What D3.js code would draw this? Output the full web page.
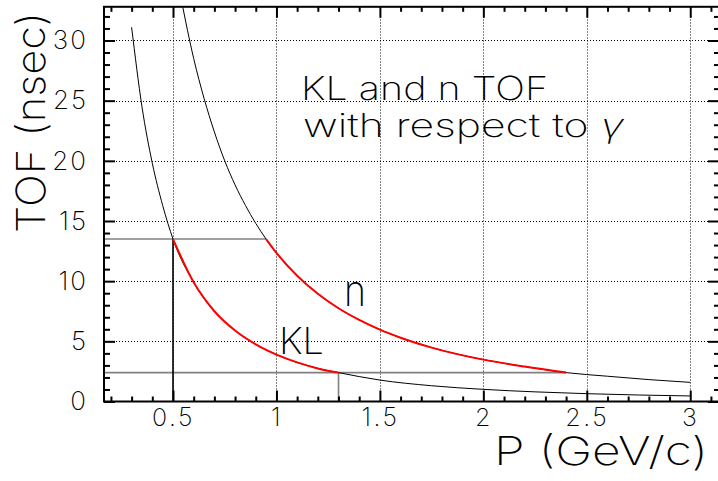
<!DOCTYPE html>
<html>
<head>
<meta charset="utf-8">
<script src="https://cdn.jsdelivr.net/npm/d3@7/dist/d3.min.js"></script>
<style>
  html, body { margin: 0; padding: 0; background: #fff; }
  svg { display: block; }
  text { font-family: "Inter", "Lato", "DejaVu Sans", sans-serif; font-weight: 250; fill: #000; }
  text.big { font-weight: 200; }
</style>
</head>
<body>
<svg id="chart" width="718" height="481"></svg>
<script>
// Momentum (GeV/c) and time of flight relative to a photon (nsec)
const pKL   = [0.30, 0.35, 0.40, 0.45, 0.50, 0.60, 0.70, 0.80, 0.90, 1.00, 1.10, 1.20, 1.30, 1.50, 1.75, 2.00, 2.25, 2.50, 2.75, 3.00];
const tofKL = [31.1, 24.5, 19.8, 16.3, 13.5, 9.90, 7.50, 5.90, 4.75, 3.90, 3.25, 2.75, 2.40, 1.78, 1.31, 1.01, 0.80, 0.65, 0.54, 0.46];

const pN   = [0.54, 0.60, 0.65, 0.70, 0.75, 0.80, 0.85, 0.90, 0.95, 1.00, 1.10, 1.20, 1.30, 1.40, 1.50, 1.60, 1.75, 2.00, 2.20, 2.40, 2.60, 2.80, 3.00];
const tofN = [33.4, 28.5, 25.2, 22.4, 20.0, 18.0, 16.3, 14.8, 13.5, 12.35, 10.45, 8.95, 7.75, 6.78, 5.97, 5.30, 4.48, 3.48, 2.90, 2.40, 2.10, 1.82, 1.59];

// Momentum window where both particles fall inside the TOF window
const klWindow = [0.50, 1.30];
const nWindow  = [0.95, 2.40];
const tofWindow = [13.5, 2.4];

// Axis ticks and labels
const xMajor = [0.5, 1, 1.5, 2, 2.5, 3];
const xLabels = ["0.5", "1", "1.5", "2", "2.5", "3"];
const yMajor = [0, 5, 10, 15, 20, 25, 30];
const yLabels = ["0", "5", "10", "15", "20", "25", "30"];

const svg = d3.select("#chart");
const L = 104, R = 719, T = 6.8, B = 401.5;

const x = d3.scaleLinear().domain([0.1665, 3.139]).range([L, R]);
const y = d3.scaleLinear().domain([0, 32.8]).range([B, T]);

const crisp = v => Math.round(v) + 0.5;

// clip region = plot frame
svg.append("defs").append("clipPath").attr("id", "frame")
  .append("rect").attr("x", L).attr("y", T).attr("width", R - L).attr("height", B - T);

// dotted grid
const grid = svg.append("g").attr("stroke", "#000").attr("stroke-width", 1).attr("stroke-dasharray", "1,2");
grid.selectAll("line.gx").data(xMajor).join("line")
  .attr("x1", d => crisp(x(d))).attr("x2", d => crisp(x(d)))
  .attr("y1", B).attr("y2", T);
grid.selectAll("line.gy").data(yMajor.filter(d => d > 0)).join("line")
  .attr("y1", d => crisp(y(d))).attr("y2", d => crisp(y(d)))
  .attr("x1", L).attr("x2", R);

// window marker lines
const marks = svg.append("g").attr("clip-path", "url(#frame)");
marks.append("line")
  .attr("x1", L).attr("x2", x(nWindow[0]))
  .attr("y1", y(tofWindow[0])).attr("y2", y(tofWindow[0]))
  .attr("stroke", "#808080").attr("stroke-width", 1.6);
marks.append("line")
  .attr("x1", L).attr("x2", x(nWindow[1]))
  .attr("y1", y(tofWindow[1])).attr("y2", y(tofWindow[1]))
  .attr("stroke", "#808080").attr("stroke-width", 1.6);
marks.append("line")
  .attr("x1", x(klWindow[0])).attr("x2", x(klWindow[0]))
  .attr("y1", B).attr("y2", y(tofWindow[0]))
  .attr("stroke", "#000").attr("stroke-width", 1.6);
marks.append("line")
  .attr("x1", x(klWindow[1])).attr("x2", x(klWindow[1]))
  .attr("y1", B).attr("y2", y(tofWindow[1]))
  .attr("stroke", "#808080").attr("stroke-width", 1.6);

// curves
const line = d3.line().x(d => x(d[0])).y(d => y(d[1])).curve(d3.curveMonotoneX);
const klPts = pKL.map((p, i) => [p, tofKL[i]]);
const nPts = pN.map((p, i) => [p, tofN[i]]);
const curves = svg.append("g").attr("clip-path", "url(#frame)").attr("fill", "none");

curves.append("path").attr("d", line(klPts)).attr("stroke", "#000").attr("stroke-width", 1);
curves.append("path").attr("d", line(nPts)).attr("stroke", "#000").attr("stroke-width", 1);
curves.append("path")
  .attr("d", line(klPts.filter(d => d[0] >= klWindow[0] && d[0] <= klWindow[1])))
  .attr("stroke", "#ff0000").attr("stroke-width", 2);
curves.append("path")
  .attr("d", line(nPts.filter(d => d[0] >= nWindow[0] && d[0] <= nWindow[1])))
  .attr("stroke", "#ff0000").attr("stroke-width", 2);

// axes with inward ticks
const xMinor = d3.range(2, 32).map(v => v / 10).filter(v => Math.abs(v * 2 - Math.round(v * 2)) > 1e-6);
const yMinor = d3.range(1, 33).filter(v => v % 5 !== 0);

function styleAxis(g) {
  g.select(".domain").remove();
  g.selectAll(".tick line").attr("stroke", "#000").attr("stroke-width", 2);
}

const bottom = svg.append("g").attr("transform", `translate(0,${B})`)
  .call(d3.axisBottom(x).tickValues(xMajor).tickSizeInner(-11).tickSizeOuter(0).tickPadding(7)
    .tickFormat((d, i) => xLabels[i]));
styleAxis(bottom);
bottom.selectAll(".tick text").attr("font-size", 25).attr("font-family", null).attr("dy", "0.71em")
  .attr("letter-spacing", 2.5);
svg.append("g").attr("transform", `translate(0,${B})`)
  .call(d3.axisBottom(x).tickValues(xMinor).tickSizeInner(-5).tickSizeOuter(0).tickFormat(""))
  .call(styleAxis);

svg.append("g").attr("transform", `translate(0,${T})`)
  .call(d3.axisTop(x).tickValues(xMajor).tickSizeInner(-11).tickSizeOuter(0).tickFormat(""))
  .call(styleAxis);
svg.append("g").attr("transform", `translate(0,${T})`)
  .call(d3.axisTop(x).tickValues(xMinor).tickSizeInner(-5).tickSizeOuter(0).tickFormat(""))
  .call(styleAxis);

const left = svg.append("g").attr("transform", `translate(${L},0)`)
  .call(d3.axisLeft(y).tickValues(yMajor).tickSizeInner(-11).tickSizeOuter(0).tickPadding(16)
    .tickFormat((d, i) => yLabels[i]));
styleAxis(left);
left.selectAll(".tick text").attr("font-size", 26).attr("font-family", null).attr("letter-spacing", 2);
svg.append("g").attr("transform", `translate(${L},0)`)
  .call(d3.axisLeft(y).tickValues(yMinor).tickSizeInner(-6).tickSizeOuter(0).tickFormat(""))
  .call(styleAxis);

svg.append("g").attr("transform", `translate(${R},0)`)
  .call(d3.axisRight(y).tickValues(yMajor).tickSizeInner(-11).tickSizeOuter(0).tickFormat(""))
  .call(styleAxis);
svg.append("g").attr("transform", `translate(${R},0)`)
  .call(d3.axisRight(y).tickValues(yMinor).tickSizeInner(-5).tickSizeOuter(0).tickFormat(""))
  .call(styleAxis);

// frame
svg.append("rect").attr("x", L).attr("y", T).attr("width", R - L).attr("height", B - T)
  .attr("fill", "none").attr("stroke", "#000").attr("stroke-width", 2);

// axis titles
svg.append("text").attr("class", "big").attr("x", 494).attr("y", 465).attr("font-size", 39)
  .attr("textLength", 214).attr("lengthAdjust", "spacingAndGlyphs").text("P (GeV/c)");
svg.append("text").attr("class", "big").attr("transform", "translate(45,233) rotate(-90)").attr("font-size", 40)
  .attr("textLength", 221).attr("lengthAdjust", "spacingAndGlyphs").text("TOF (nsec)");

// plot annotations
svg.append("text").attr("class", "big").attr("x", 301).attr("y", 100).attr("font-size", 33)
  .attr("textLength", 247).attr("lengthAdjust", "spacingAndGlyphs").text("KL and n TOF");
const l2 = svg.append("text").attr("class", "big").attr("x", 303).attr("y", 137).attr("font-size", 33)
  .attr("textLength", 321).attr("lengthAdjust", "spacingAndGlyphs");
l2.append("tspan").text("with respect to ");
l2.append("tspan").attr("font-style", "italic").text("γ");

svg.append("text").attr("class", "big").attr("x", 279).attr("y", 354).attr("font-size", 37)
  .attr("textLength", 45).attr("lengthAdjust", "spacingAndGlyphs").text("KL");
svg.append("text").attr("class", "big").attr("x", 344).attr("y", 306).attr("font-size", 44)
  .attr("textLength", 22).attr("lengthAdjust", "spacingAndGlyphs").text("n");
</script>
</body>
</html>
